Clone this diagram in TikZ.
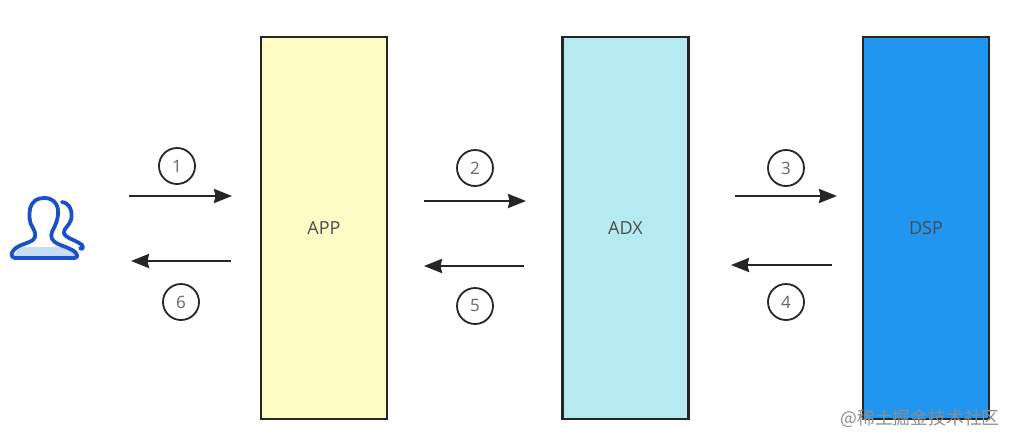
\documentclass[tikz,border=0pt]{standalone}
\usepackage{fontspec}
\setmainfont{Open Sans}
\newfontfamily\cjkfont{Noto Sans CJK SC}
\usetikzlibrary{arrows.meta}
\definecolor{appyellow}{HTML}{FFFBC4}
\definecolor{adxblue}{HTML}{B5EBF0}
\definecolor{dspblue}{HTML}{2196F0}
\definecolor{iconblue}{HTML}{1A50C8}
\definecolor{iconfill}{HTML}{C9DCF5}
\tikzset{
    sysbox/.style={draw=black!85, line width=2.6pt, minimum width=126pt, minimum height=382pt,
        inner sep=0pt, text=black!70, font=\fontsize{18}{18}\selectfont},
    stepnum/.style={draw=black!85, circle, line width=1.8pt, minimum size=36pt, inner sep=0pt,
        text=black!60, font=\fontsize{17}{17}\selectfont},
    flow/.style={draw=black!85, line width=2.4pt, -{Stealth[length=18pt,width=14pt,inset=1.5pt]}},
    usericon/.style={draw=iconblue, line width=3.8pt, line join=round, line cap=round}
}
\begin{document}
\begin{tikzpicture}[x=1pt,y=-1pt]
    \useasboundingbox (0,0) rectangle (1016,445);
    % systems
    \node[sysbox, fill=appyellow] (app) at (324,228) {APP};
    \node[sysbox, fill=adxblue] (adx) at (625.5,228) {ADX};
    \node[sysbox, fill=dspblue] (dsp) at (926,228) {DSP};
    % step numbers
    \node[stepnum] (one) at (177,166) {1};
    \node[stepnum] (two) at (475,168) {2};
    \node[stepnum] (three) at (786,168) {3};
    \node[stepnum] (four) at (786,302) {4};
    \node[stepnum] (five) at (475,306) {5};
    \node[stepnum] (six) at (181,302) {6};
    % arrow ends
    \coordinate (a1) at (129,196);
    \coordinate (b1) at (232,196);
    \coordinate (a2) at (424,201);
    \coordinate (b2) at (526,201);
    \coordinate (a3) at (735,196);
    \coordinate (b3) at (837,196);
    \coordinate (a4) at (832,265);
    \coordinate (b4) at (731,265);
    \coordinate (a5) at (524,266);
    \coordinate (b5) at (424,266);
    \coordinate (a6) at (231,261);
    \coordinate (b6) at (131,261);
    \draw[flow] (a1) -- (b1);
    \draw[flow] (a2) -- (b2);
    \draw[flow] (a3) -- (b3);
    \draw[flow] (a4) -- (b4);
    \draw[flow] (a5) -- (b5);
    \draw[flow] (a6) -- (b6);
    % user icon
    \fill[iconfill] (14,257) -- (17,250) -- (24,247) -- (66,247) -- (75,252) -- (77,257) -- cycle;
    \draw[usericon] (62,202) .. controls (70,203) and (73,212) .. (71,220)
        .. controls (69,226) and (63,229) .. (64,233)
        .. controls (65,238) and (76,240) .. (82,245)
        .. controls (84,248) and (82,250) .. (80,248);
    \draw[usericon] (15,258) .. controls (11,258) and (11,253) .. (13,251)
        .. controls (17,245) and (27,244) .. (33,240)
        .. controls (37,236) and (35,232) .. (33,228)
        .. controls (29,223) and (29,215) .. (30,209)
        .. controls (32,201) and (37,198) .. (44,198)
        .. controls (52,198) and (57,202) .. (58,210)
        .. controls (59,218) and (55,226) .. (52,232)
        .. controls (50,237) and (52,241) .. (58,244)
        .. controls (65,247) and (73,249) .. (76,253)
        .. controls (78,256) and (77,258) .. (74,258) -- cycle;
    % watermark
    \node[text=black!45, font=\cjkfont\fontsize{17.8}{17.8}\selectfont, inner sep=0pt] (mark) at (920,418) {@稀土掘金技术社区};
\end{tikzpicture}
\end{document}
